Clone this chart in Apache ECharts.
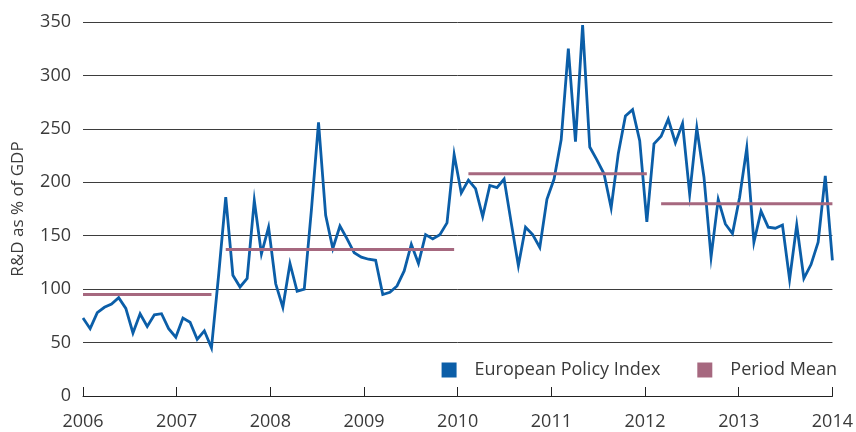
<!DOCTYPE html>
<html>
<head>
<meta charset="utf-8">
<script src="https://cdn.jsdelivr.net/npm/echarts@6/dist/echarts.min.js"></script>
<style>
html,body{margin:0;padding:0;background:#fff;}
#chart{width:856px;height:432px;}
</style>
</head>
<body>
<div id="chart"></div>
<script>
// Axis tick labels (years)
const yearLabels = ['2006','2007','2008','2009','2010','2011','2012','2013','2014'];
// European Policy Index observations, evenly spaced from start of 2006 to start of 2014
const indexValues = [73,63,78,83,86,92,82,59,77,65,76,77,63,55,73,69,53,61,45,
  113,186,113,102,110,183,133,158,105,83,124,98,100,174,256,169,138,159,147,134,130,128,127,95,97,103,117,142,124,151,147,151,162,226,190,202,
  194,168,197,195,203,162,122,158,151,139,184,203,240,325,238,347,233,221,208,176,227,262,268,239,163,236,243,259,
  237,255,189,251,205,130,184,161,152,186,232,144,173,158,157,160,109,160,110,123,144,206,127];
// Period means: start index, end index, value
const meanStart = [0, 20, 54, 81];
const meanEnd = [18, 52, 79, 105];
const meanValues = [95, 137, 208, 180];

const firstYear = Number(yearLabels[0]);
const lastYear = Number(yearLabels[yearLabels.length - 1]);
const step = (lastYear - firstYear) / (indexValues.length - 1);
const xOf = i => firstYear + i * step;

const lineData = indexValues.map((v, i) => [xOf(i), v]);
const meanData = [];
meanValues.forEach((m, k) => {
  meanData.push([xOf(meanStart[k]), m]);
  meanData.push([xOf(meanEnd[k]), m]);
  if (k < meanValues.length - 1) meanData.push([xOf(meanEnd[k]) + step / 2, null]);
});

const FONT = "'Open Sans', 'Noto Sans', sans-serif";
const TXT = '#3a3a3a';
const BLUE = '#0b5ea8';
const MAUVE = '#a6687f';

const chart = echarts.init(document.getElementById('chart'), null, {renderer: 'canvas'});
chart.setOption({
  animation: false,
  backgroundColor: '#ffffff',
  textStyle: {fontFamily: FONT},
  grid: {left: 83, right: 21, top: 22, bottom: 36, containLabel: false},
  legend: {
    data: [
      {name: 'European Policy Index', icon: 'rect', itemStyle: {color: BLUE}},
      {name: 'Period Mean', icon: 'rect', itemStyle: {color: MAUVE}}
    ],
    right: 14,
    top: 356,
    itemWidth: 15,
    itemHeight: 15,
    itemGap: 37,
    textStyle: {fontFamily: FONT, fontSize: 18, color: TXT, padding: [0, 0, 0, 13]}
  },
  xAxis: {
    type: 'value',
    min: firstYear,
    max: lastYear,
    interval: 1,
    axisLine: {show: true, lineStyle: {color: '#222', width: 1}},
    axisTick: {show: true, inside: true, length: 9, lineStyle: {color: '#222', width: 1}},
    splitLine: {show: false},
    axisLabel: {
      fontFamily: FONT, fontSize: 18, color: TXT, margin: 17,
      formatter: v => yearLabels[Math.round(v - firstYear)] || ''
    }
  },
  yAxis: {
    type: 'value',
    min: 0,
    max: 350,
    interval: 50,
    name: 'R&D as % of GDP',
    nameLocation: 'middle',
    nameGap: 56,
    nameTextStyle: {fontFamily: FONT, fontSize: 17, color: TXT},
    axisLine: {show: false},
    axisTick: {show: false},
    splitLine: {show: true, lineStyle: {color: '#3d3d3d', width: 1}},
    axisLabel: {fontFamily: FONT, fontSize: 18, color: TXT, margin: 12}
  },
  series: [
    {
      name: 'European Policy Index',
      type: 'line',
      data: lineData,
      showSymbol: false,
      symbol: 'none',
      color: BLUE,
      lineStyle: {color: BLUE, width: 2.8, join: 'miter'},
      z: 2
    },
    {
      name: 'Period Mean',
      type: 'line',
      data: meanData,
      connectNulls: false,
      showSymbol: false,
      symbol: 'none',
      color: MAUVE,
      lineStyle: {color: MAUVE, width: 3},
      z: 3
    }
  ]
});
</script>
</body>
</html>
